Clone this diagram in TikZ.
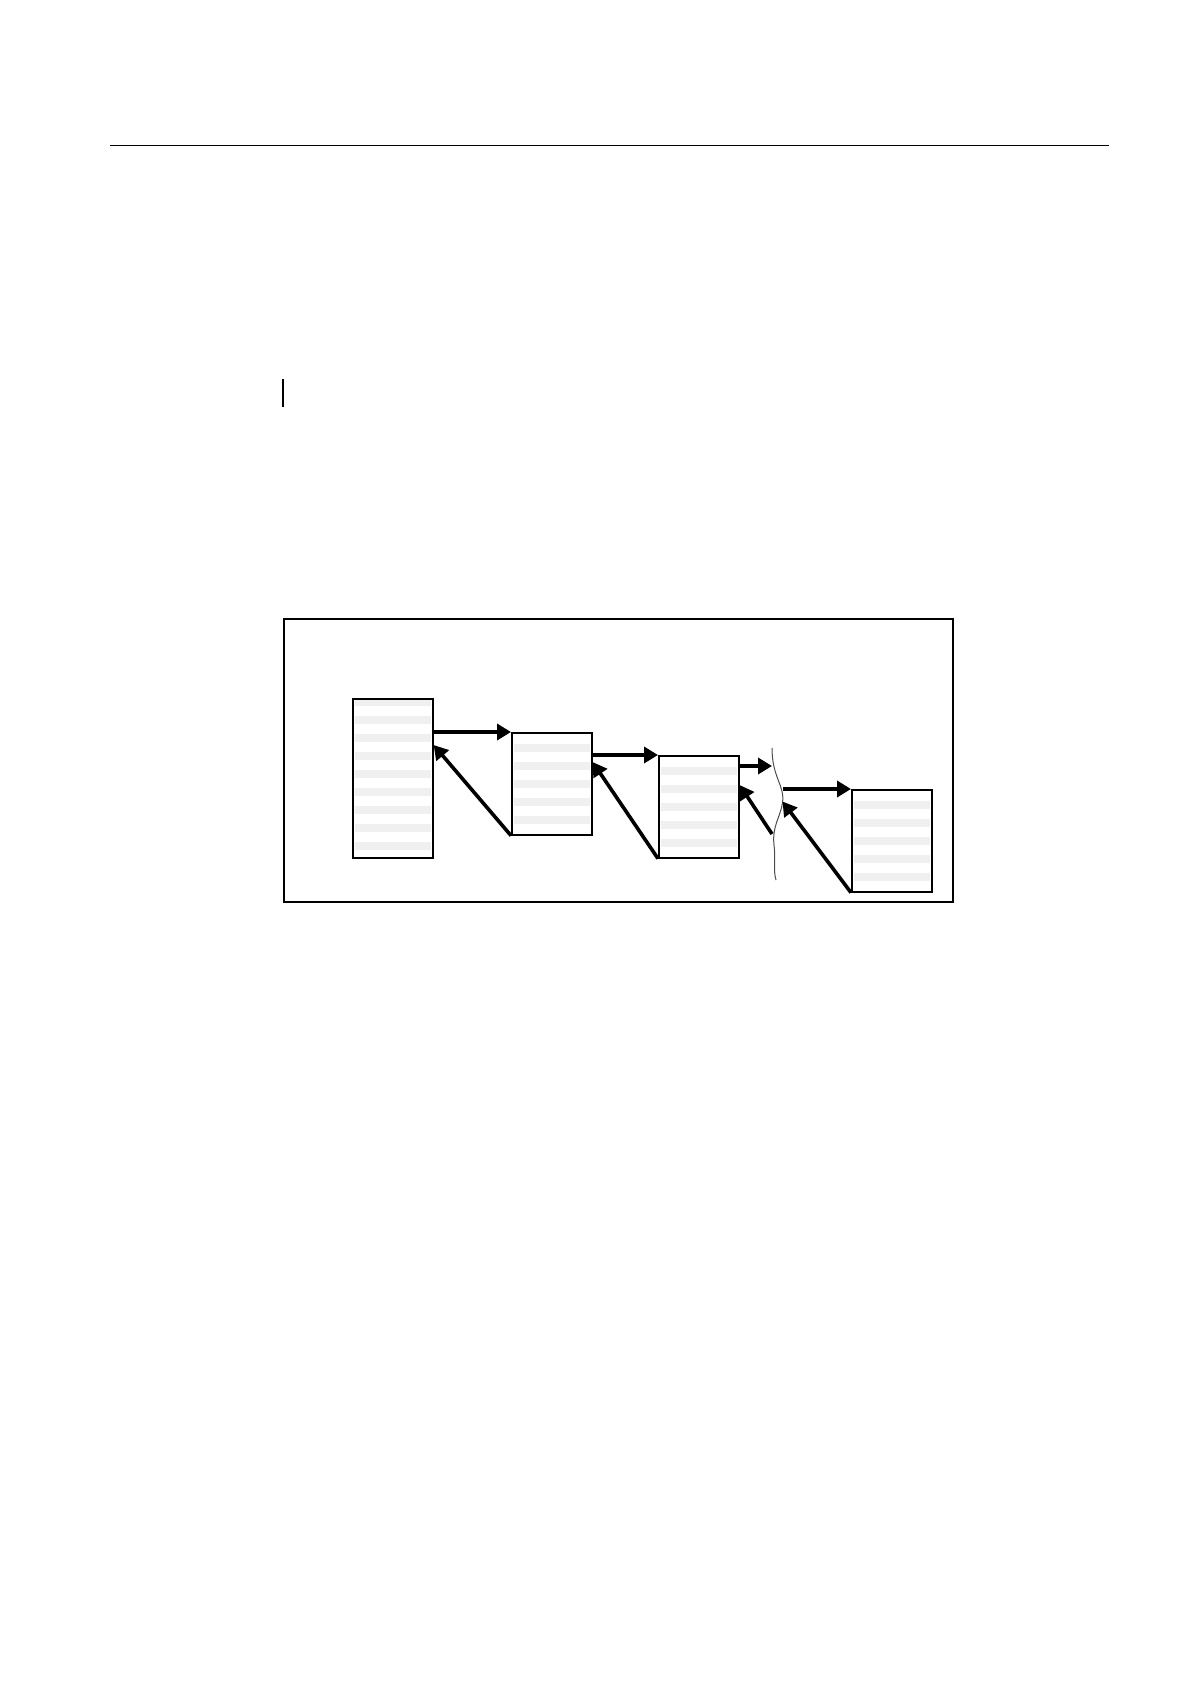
\documentclass[tikz,border=0pt]{standalone}
\usetikzlibrary{arrows.meta, positioning}

\begin{document}
\begin{tikzpicture}[x=0.5pt,y=-0.5pt,>={Triangle[length=7pt,width=8pt]},
      frame/.style={draw,line width=1pt},
      page/.style={draw=black,fill=white,line width=0.8pt,inner sep=0pt,anchor=north west,minimum width=40pt},
      stripes/.style 2 args={path picture={\foreach \k in {0,...,#2}
          \fill[gray!12] ([xshift=1pt,yshift={-#1-9pt*\k}]path picture bounding box.north west)
            rectangle ([xshift=-1pt,yshift={-#1-4pt-9pt*\k}]path picture bounding box.north east);}},
      link/.style={->,line width=1.8pt},
      cut/.style={draw=black!70,line width=0.5pt}]
      \useasboundingbox (0,0) rectangle (1190,1684);
      \draw[line width=0.7pt] (110,145.3) -- (1109,145.3);
      \draw[line width=0.6pt] (283,379) -- (283,407);
      \draw[frame] (284.3,619.3) rectangle (952.7,902.3);
      % pages of the chain
      \node[page,minimum height=79.5pt,stripes={-0.5pt}{8}] (b_1) at (352,698) {};
      \node[page,minimum height=51pt,stripes={5.5pt}{4}]    (b_2) at (511,732) {};
      \node[page,minimum height=51pt,stripes={5.5pt}{4}]    (b_3) at (658,755) {};
      \node[page,minimum height=51pt,stripes={5.5pt}{4}]    (b_4) at (851,789) {};
      % break in the chain
      \coordinate (cut_a) at (772,766);
      \coordinate (cut_b) at (772,834);
      \coordinate (cut_c) at (783,789);
      \coordinate (cut_d) at (782.5,801.5);
      \draw[cut] (772,748) .. controls (772,778) and (785,785) .. (782.5,803)
                 .. controls (780,818) and (772,826) .. (774,845)
                 .. controls (776,862) and (773,870) .. (776,880);
      \draw[link] (b_1.east |- b_2.north) -- (b_2.north west);
      \draw[link] (b_2.south west) -- ([yshift=-23.5pt]b_1.north east);
      \draw[link] (b_2.east |- b_3.north) -- (b_3.north west);
      \draw[link] (b_3.south west) -- ([yshift=-15pt]b_2.north east);
      \draw[link] ([yshift=-5.5pt]b_3.north east) -- (cut_a);
      \draw[link] (cut_b) -- ([yshift=-15pt]b_3.north east);
      \draw[link] (cut_c) -- (b_4.north west);
      \draw[link] (b_4.south west) -- (cut_d);
    \end{tikzpicture}
\end{document}
